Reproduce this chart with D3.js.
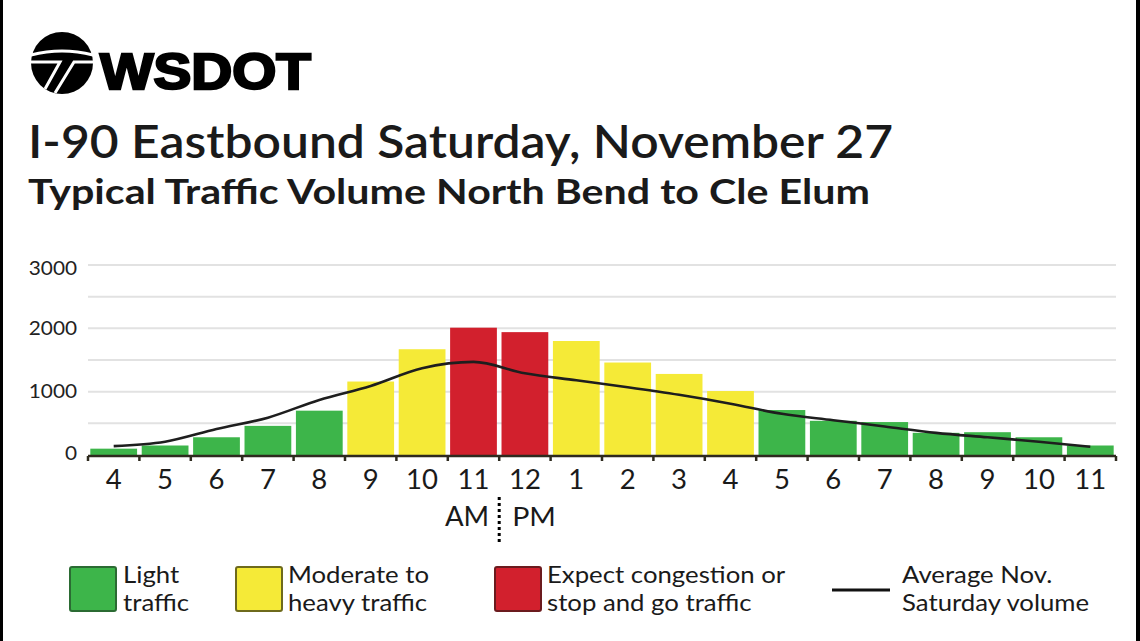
<!DOCTYPE html>
<html>
<head>
<meta charset="utf-8">
<script src="https://cdn.jsdelivr.net/npm/d3@7"></script>
<style>
html,body{margin:0;padding:0;background:#fff;}
svg{display:block;}
text{font-family:Lato,"Noto Sans",sans-serif;fill:#1a1a1a;}
</style>
</head>
<body>
<svg id="chart" width="1140" height="641"></svg>
<script>
const hours = ["4","5","6","7","8","9","10","11","12","1","2","3","4","5","6","7","8","9","10","11"];
const volumes = [100,150,280,460,700,1160,1670,2010,1940,1800,1460,1280,1010,710,540,520,350,360,280,150];
const levels = ["light","light","light","light","light","moderate","moderate","congestion","congestion","moderate","moderate","moderate","moderate","light","light","light","light","light","light","light"];
const averageNov = [140,210,410,590,870,1090,1370,1470,1290,1180,1070,950,810,650,550,450,350,280,210,130];
const yTicks = [0,1000,2000,3000];
const legendItems = [
  {key:"light", lines:["Light","traffic"]},
  {key:"moderate", lines:["Moderate to","heavy traffic"]},
  {key:"congestion", lines:["Expect congestion or","stop and go traffic"]},
  {key:"average", lines:["Average Nov.","Saturday volume"]}
];
const titleText = "I-90 Eastbound Saturday, November 27";
const subtitleText = "Typical Traffic Volume North Bend to Cle Elum";

const fill = {light:"#3db54a", moderate:"#f5ea37", congestion:"#d2202d"};
const edge = {light:"#2b6b33", moderate:"#6e6a1c", congestion:"#6b1b1e"};
const SX = 1.12;

const svg = d3.select("#chart");
svg.append("rect").attr("width",1140).attr("height",641).attr("fill","#fff");
svg.append("rect").attr("x",0).attr("y",0).attr("width",3).attr("height",641).attr("fill","#000");
svg.append("rect").attr("x",1136).attr("y",0).attr("width",4).attr("height",641).attr("fill","#000");

// Logo
const logo = svg.append("g");
logo.append("circle").attr("cx",62).attr("cy",63).attr("r",31).attr("fill","#000");
logo.append("path").attr("d","M31,55 Q62,47 93,55").attr("stroke","#fff").attr("stroke-width",3).attr("fill","none");
logo.append("path").attr("d","M30,62 H60 L45,89").attr("stroke","#fff").attr("stroke-width",3).attr("fill","none");
logo.append("path").attr("d","M94,62 H74 L55,93").attr("stroke","#fff").attr("stroke-width",3).attr("fill","none");
logo.append("text").attr("x",100).attr("y",89).attr("textLength",211).attr("lengthAdjust","spacingAndGlyphs")
  .style("font-family","'Liberation Sans',Arial,sans-serif").style("font-weight","bold").style("font-size","50px")
  .style("fill","#000").attr("stroke","#000").attr("stroke-width",2.4).text("WSDOT");

svg.append("text").attr("x",28).attr("y",158).attr("textLength",865).attr("lengthAdjust","spacingAndGlyphs")
  .style("font-size","46px").style("font-weight","600").text(titleText);
svg.append("text").attr("transform","translate(28,204)").attr("textLength",842).attr("lengthAdjust","spacingAndGlyphs")
  .style("font-size","34px").style("font-weight","700").text(subtitleText);

// Scales
const x = d3.scaleBand().domain(d3.range(hours.length)).range([88,1116]).paddingInner(0.09).paddingOuter(0.045);
const y = d3.scaleLinear().domain([0,3000]).range([455,265]);

// gridlines
svg.append("g").selectAll("line").data(d3.range(500,3001,500)).join("line")
  .attr("x1",88).attr("x2",1116).attr("y1",d=>y(d)).attr("y2",d=>y(d))
  .attr("stroke","#e2e2e2").attr("stroke-width",2);

// y labels
svg.append("g").selectAll("text").data(yTicks).join("text")
  .attr("text-anchor","end")
  .attr("transform",d=>`translate(77,${y(d)+(d===3000?3:d===0?-2:-1)}) scale(1.04,1)`).attr("dy","0.36em")
  .style("font-size","20px").style("fill","#222").text(d=>d);

// bars
svg.append("g").selectAll("rect").data(volumes).join("rect")
  .attr("x",(d,i)=>x(i)).attr("width",x.bandwidth())
  .attr("y",d=>y(d)).attr("height",d=>y(0)-y(d))
  .attr("fill",(d,i)=>fill[levels[i]]);

// axis
const bounds = d3.range(hours.length+1).map(i=>88+i*(1028/hours.length));
svg.append("line").attr("x1",88).attr("x2",1116).attr("y1",456).attr("y2",456).attr("stroke","#2e2a1e").attr("stroke-width",2.5);
svg.append("g").selectAll("line").data(bounds).join("line")
  .attr("x1",d=>d).attr("x2",d=>d).attr("y1",456).attr("y2",461).attr("stroke","#2e2a1e").attr("stroke-width",2.5);

svg.append("g").selectAll("text").data(hours).join("text")
  .attr("text-anchor","middle")
  .attr("transform",(d,i)=>`translate(${x(i)+x.bandwidth()/2},489) scale(1.06,1)`)
  .style("font-size","26px").text(d=>d);

// average line
const line = d3.line().x((d,i)=>x(i)+x.bandwidth()/2).y(d=>y(d)).curve(d3.curveMonotoneX);
svg.append("path").datum(averageNov).attr("d",line).attr("fill","none").attr("stroke","#1e1e1e").attr("stroke-width",2.6);

// AM / PM
const midX = (x(7)+x.bandwidth()+x(8))/2;
svg.append("text").attr("text-anchor","end").attr("transform",`translate(${midX-10},526) scale(1.06,1)`).style("font-size","26px").text("AM");
svg.append("text").attr("text-anchor","start").attr("transform",`translate(${midX+13},526) scale(1.1,1)`).style("font-size","26px").text("PM");
svg.append("line").attr("x1",midX).attr("x2",midX).attr("y1",497).attr("y2",545)
  .attr("stroke","#000").attr("stroke-width",3).attr("stroke-dasharray","3,3");

// legend
const legX = [70, 236, 495, 832];
const textX = [123, 288, 547, 902];
const lg = svg.append("g");
legendItems.forEach((it,i)=>{
  if (it.key==="average") {
    lg.append("line").attr("x1",legX[i]).attr("x2",legX[i]+58).attr("y1",590).attr("y2",590).attr("stroke","#111").attr("stroke-width",3);
  } else {
    lg.append("rect").attr("x",legX[i]).attr("y",567).attr("width",46).attr("height",44).attr("rx",2)
      .attr("fill",fill[it.key]).attr("stroke",edge[it.key]).attr("stroke-width",2);
  }
  it.lines.forEach((t,j)=>{
    lg.append("text").attr("transform",`translate(${textX[i]},${583+j*28}) scale(${SX},1)`)
      .style("font-size","23px").text(t);
  });
});
</script>
</body>
</html>
